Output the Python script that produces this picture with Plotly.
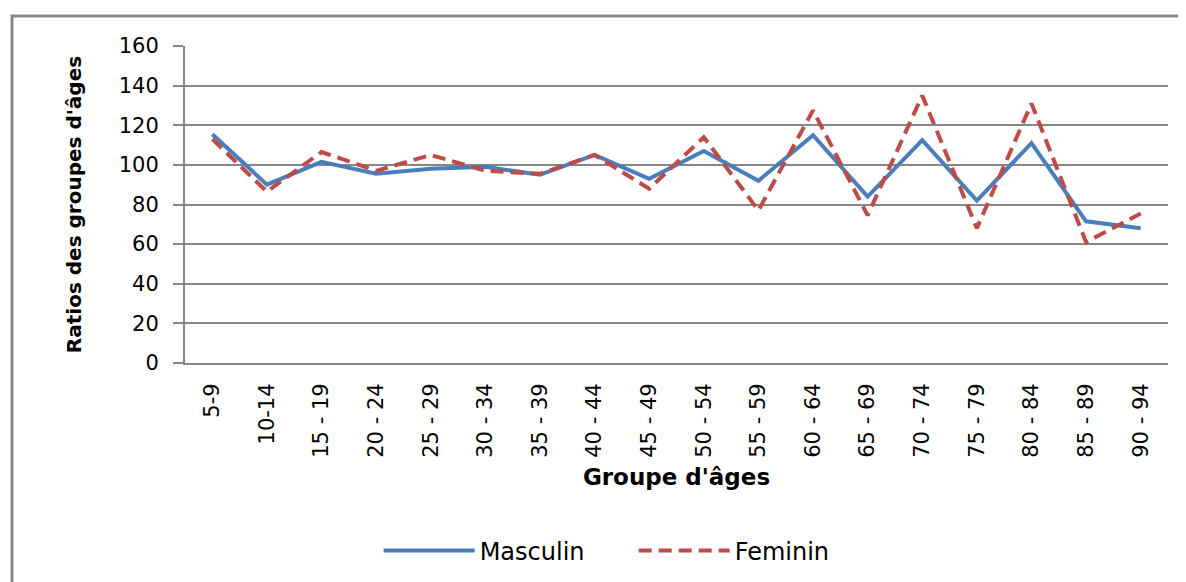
import plotly.graph_objects as go

categories = ["5-9", "10-14", "15 - 19", "20 - 24", "25 - 29", "30 - 34", "35 - 39",
              "40 - 44", "45 - 49", "50 - 54", "55 - 59", "60 - 64", "65 - 69",
              "70 - 74", "75 - 79", "80 - 84", "85 - 89", "90 - 94"]
masculin = [115.5, 90, 101.5, 95.5, 98, 99, 95, 105, 93, 107, 92, 115, 84, 112.5, 82, 111, 71.5, 68]
feminin = [113, 86.5, 106.5, 97, 105, 97, 95.5, 105, 88, 114, 77, 127.5, 74.5, 135, 68, 131, 61, 75.5]
y_ticks = [0, 20, 40, 60, 80, 100, 120, 140, 160]

FONT = "DejaVu Sans"
GRID = "#868686"

fig = go.Figure()
fig.add_trace(go.Scatter(x=categories, y=masculin, name="Masculin", mode="lines",
                         line=dict(color="#4A7EBB", width=4)))
fig.add_trace(go.Scatter(x=categories, y=feminin, name="Feminin", mode="lines",
                         line=dict(color="#BE4B48", width=4, dash="13px,7px")))

fig.update_layout(
    width=1186, height=582,
    margin=dict(l=177, r=26, t=38, b=227),
    paper_bgcolor="white", plot_bgcolor="white",
    font=dict(family=FONT, size=20, color="black"),
    showlegend=True,
    legend=dict(orientation="h", x=0.197, xanchor="left", y=-0.593, yanchor="middle",
                font=dict(family=FONT, size=24, color="black"), itemwidth=91,
                entrywidth=149, entrywidthmode="pixels",
                traceorder="normal"),
    xaxis=dict(
        type="category", tickangle=-90, showgrid=False, ticks="",
        showline=True, linecolor=GRID, linewidth=2,
        tickfont=dict(family=FONT, size=21),
        ticklabelstandoff=10,
        title=dict(text="Groupe d'âges", font=dict(family=FONT, size=23, color="black", weight="bold"),
                   standoff=12),
        range=[-0.5, 17.5], fixedrange=True,
    ),
    yaxis=dict(
        range=[0, 160], tickvals=y_ticks, showgrid=True, gridcolor=GRID, gridwidth=1.5,
        showline=True, linecolor=GRID, linewidth=2, ticks="outside", ticklen=10,
        tickcolor=GRID, tickwidth=1.5,
        tickfont=dict(family=FONT, size=21),
        ticklabelstandoff=10,
        zeroline=False,
        title=dict(text="Ratios des groupes d'âges", font=dict(family=FONT, size=20, color="black", weight="bold"),
                   standoff=32),
    ),
    shapes=[dict(type="rect", xref="paper", yref="paper",
                 x0=-0.176, x1=1.1, y0=-0.9, y1=1.095,
                 line=dict(color="#888888", width=3), fillcolor="rgba(0,0,0,0)", layer="below")],
)

fig.write_html("out.html")
